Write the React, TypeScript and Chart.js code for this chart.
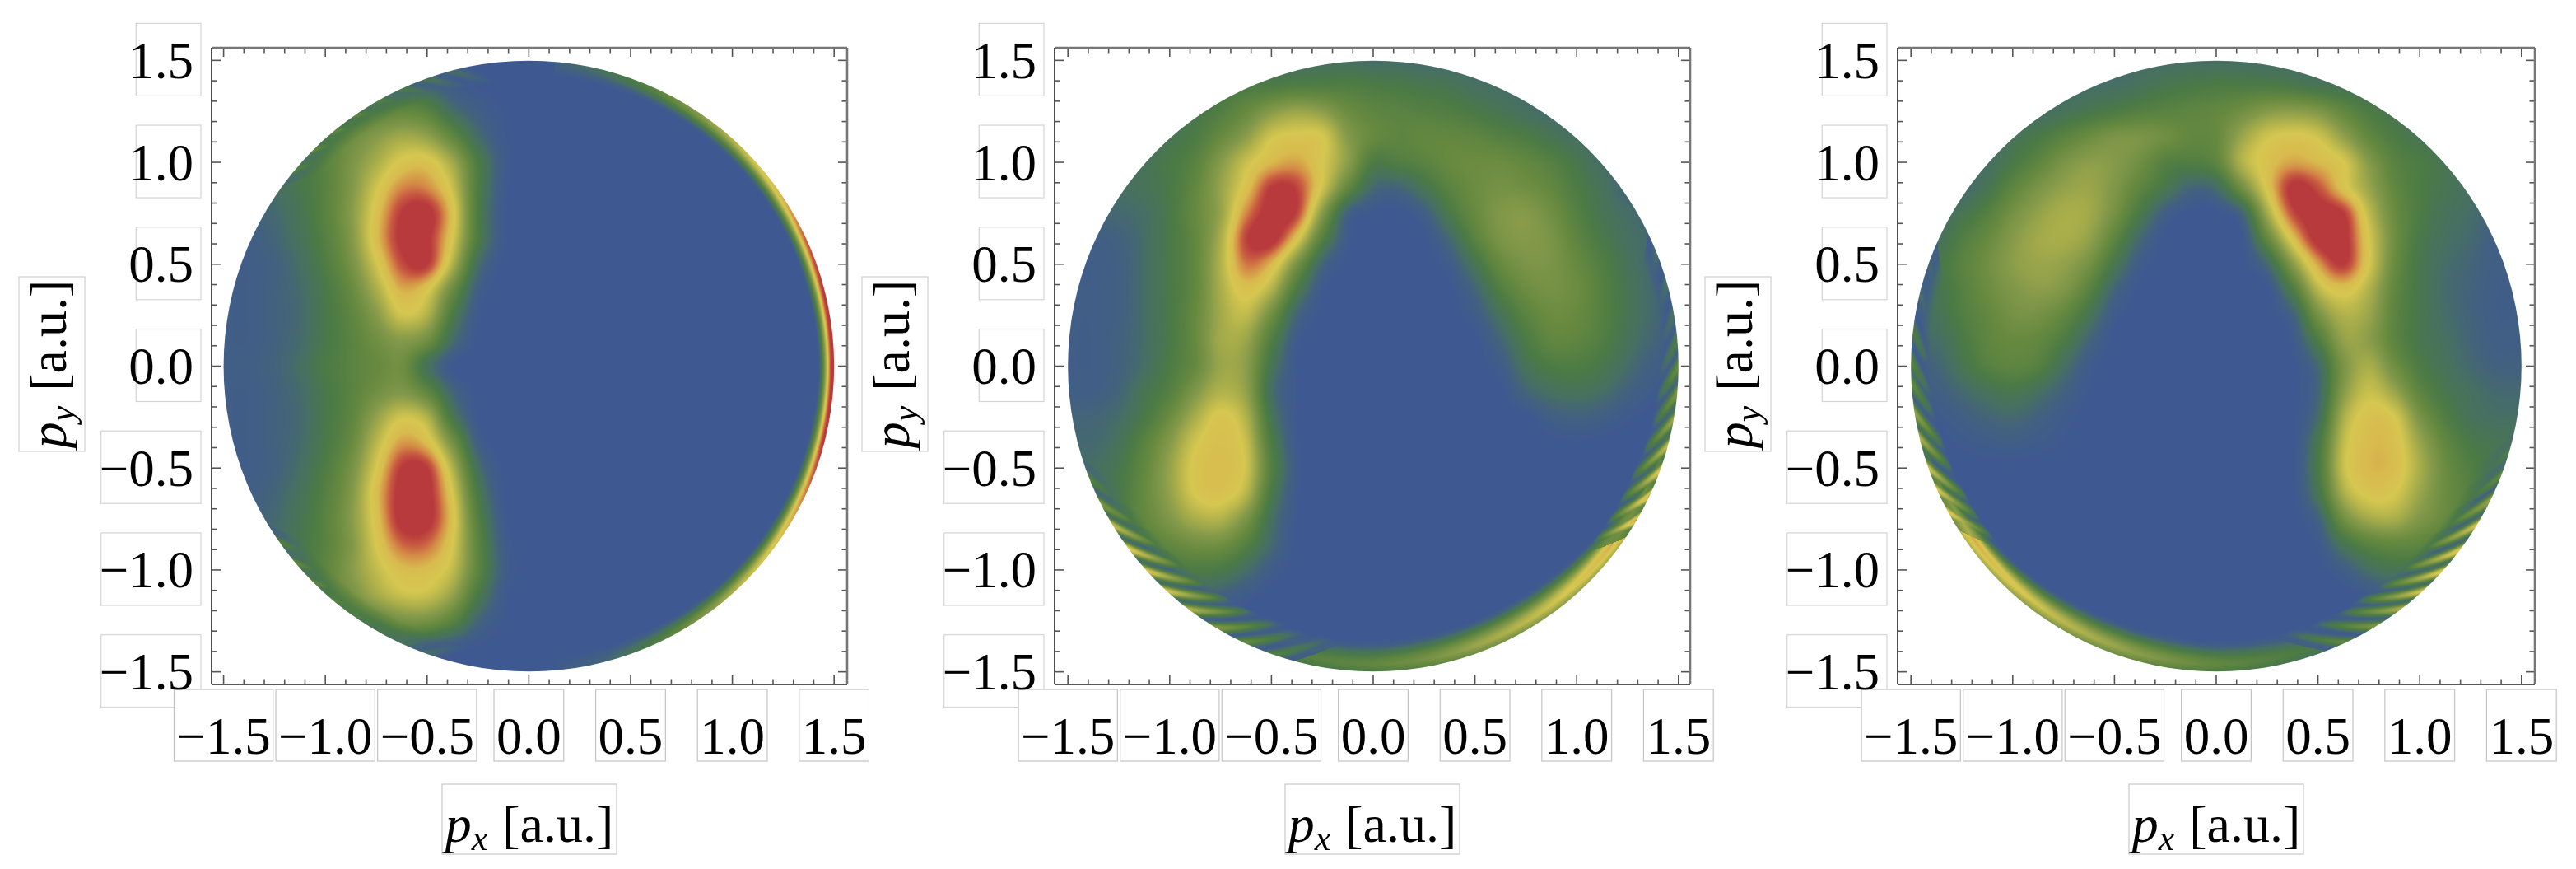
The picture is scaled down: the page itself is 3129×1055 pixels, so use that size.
import React, { useEffect, useRef } from "react";
import { Chart, registerables } from "chart.js";
Chart.register(...registerables);

const xTicks = [-1.5, -1, -0.5, 0, 0.5, 1, 1.5];
const yTicks = [1.5, 1, 0.5, 0, -0.5, -1, -1.5];
const minorTicks = [-1.5,-1.4,-1.3,-1.2,-1.1,-1,-0.9,-0.8,-0.7,-0.6,-0.5,-0.4,-0.3,-0.2,-0.1,0,0.1,0.2,0.3,0.4,0.5,0.6,0.7,0.8,0.9,1,1.1,1.2,1.3,1.4,1.5];
const gridX = [-1.5,-1.375,-1.25,-1.125,-1,-0.875,-0.75,-0.625,-0.5,-0.375,-0.25,-0.125,0,0.125,0.25,0.375,0.5,0.625,0.75,0.875,1,1.125,1.25,1.375,1.5];
const gridY = [1.5,1.375,1.25,1.125,1,0.875,0.75,0.625,0.5,0.375,0.25,0.125,0,-0.125,-0.25,-0.375,-0.5,-0.625,-0.75,-0.875,-1,-1.125,-1.25,-1.375,-1.5];

const colorStops = [[0,"#3e5892"],[8,"#42617f"],[15,"#476f63"],[25,"#4b7a45"],[38,"#66893f"],[50,"#84994a"],[60,"#a8ad4a"],[72,"#d6c750"],[80,"#d8bb4e"],[88,"#d48a46"],[94,"#c75a41"],[100,"#b83a3c"]];

const cellsA = [
[5,5,5,5,5,6,8,10,5,2,0,0,0,0,0,0,0,0,0,0,0,0,0,0,0],
[6,6,6,8,10,14,16,16,12,4,1,0,0,0,0,0,0,0,0,0,0,0,0,0,0],
[20,20,20,22,26,28,32,36,32,15,6,1,0,0,0,0,0,0,0,0,0,0,0,0,0],
[20,20,24,28,32,40,50,58,54,36,14,2,0,0,0,0,0,0,0,0,0,0,0,0,0],
[15,18,20,25,32,46,60,74,76,58,26,4,0,0,0,0,0,0,0,0,0,0,0,0,0],
[10,12,15,22,32,48,70,88,88,68,27,3,0,0,0,0,0,0,0,0,0,0,0,0,0],
[6,8,12,20,32,50,76,100,104,76,26,2,0,0,0,0,0,0,0,0,0,0,0,0,0],
[5,6,10,18,30,48,78,102,102,72,26,2,0,0,0,0,0,0,0,0,0,0,0,0,0],
[5,5,8,15,27,44,70,96,100,62,15,0,0,0,0,0,0,0,0,0,0,0,0,0,0],
[5,5,8,13,24,38,60,82,74,40,6,0,0,0,0,0,0,0,0,0,0,0,0,0,0],
[5,5,8,12,23,34,50,70,62,25,2,0,0,0,0,0,0,0,0,0,0,0,0,0,0],
[5,5,8,13,23,32,42,50,42,14,0,0,0,0,0,0,0,0,0,0,0,0,0,0,0],
[5,6,9,15,25,32,38,42,18,1,0,0,0,0,0,0,0,0,0,0,0,0,0,0,0],
[5,5,8,13,23,32,42,48,35,10,0,0,0,0,0,0,0,0,0,0,0,0,0,0,0],
[5,5,8,12,23,34,54,70,62,22,1,0,0,0,0,0,0,0,0,0,0,0,0,0,0],
[5,5,8,13,24,38,64,85,78,44,6,0,0,0,0,0,0,0,0,0,0,0,0,0,0],
[5,5,8,15,27,44,72,100,100,62,16,0,0,0,0,0,0,0,0,0,0,0,0,0,0],
[5,6,10,18,30,48,78,104,104,72,24,1,0,0,0,0,0,0,0,0,0,0,0,0,0],
[6,8,12,20,32,50,76,104,104,76,30,3,0,0,0,0,0,0,0,0,0,0,0,0,0],
[10,12,15,22,32,48,72,92,92,72,34,5,0,0,0,0,0,0,0,0,0,0,0,0,0],
[15,18,20,26,34,50,66,78,78,66,34,6,0,0,0,0,0,0,0,0,0,0,0,0,0],
[20,20,24,28,34,44,58,68,68,54,24,3,0,0,0,0,0,0,0,0,0,0,0,0,0],
[20,20,20,24,28,32,36,44,44,32,10,1,0,0,0,0,0,0,0,0,0,0,0,0,0],
[5,5,5,8,10,15,20,18,10,4,1,0,0,0,0,0,0,0,0,0,0,0,0,0,0],
[5,5,5,5,5,5,8,8,5,2,0,0,0,0,0,0,0,0,0,0,0,0,0,0,0],
];

const cellsB = [
[10,10,10,10,10,12,14,15,16,16,16,16,14,14,12,12,10,8,8,8,8,8,8,8,8],
[15,15,15,15,15,18,22,25,26,28,28,28,26,24,22,20,16,14,12,10,8,8,8,8,8],
[18,18,18,18,18,22,28,38,50,56,52,40,34,32,30,28,24,20,16,12,10,8,8,8,8],
[18,18,18,18,20,26,38,52,70,74,72,50,38,34,36,36,34,30,26,20,15,10,8,8,8],
[16,16,16,18,24,32,50,68,80,84,72,52,26,28,32,38,40,40,36,30,22,14,10,8,8],
[14,14,15,18,24,36,55,76,100,98,70,36,12,10,20,32,40,44,42,36,26,18,10,8,8],
[10,10,12,15,24,38,55,88,104,98,50,8,1,0,6,24,38,48,50,42,30,20,14,10,10],
[6,6,8,14,24,36,60,98,104,75,30,3,0,0,0,12,32,46,50,46,34,24,16,12,10],
[5,5,7,14,24,36,62,90,80,45,10,0,0,0,0,4,20,38,46,46,38,28,18,12,10],
[5,5,7,14,24,36,60,76,62,25,2,0,0,0,0,0,10,28,40,44,40,30,20,12,10],
[5,5,7,14,24,38,58,66,42,10,0,0,0,0,0,0,4,18,32,40,38,30,20,12,8],
[5,5,8,14,24,38,58,56,28,3,0,0,0,0,0,0,0,10,25,35,34,28,18,10,6],
[5,5,8,15,26,38,56,52,20,1,0,0,0,0,0,0,0,4,18,26,27,22,14,6,4],
[6,6,10,20,30,48,62,54,15,1,0,0,0,0,0,0,0,0,10,16,18,15,8,3,2],
[10,10,14,24,40,60,74,62,20,1,0,0,0,0,0,0,0,0,0,6,8,6,2,0,0],
[12,12,18,32,50,70,77,68,26,2,0,0,0,0,0,0,0,0,0,0,1,0,0,0,0],
[15,15,22,36,55,74,78,70,30,3,0,0,0,0,0,0,0,0,0,0,0,0,0,0,0],
[18,18,24,38,54,72,76,64,24,2,0,0,0,0,0,0,0,0,0,0,0,0,0,0,0],
[20,20,25,36,48,60,62,46,16,1,0,0,0,0,0,0,0,0,0,0,0,0,0,0,0],
[20,20,25,30,36,42,42,30,12,0,0,0,0,0,0,0,0,0,0,0,0,0,0,0,0],
[15,15,18,22,24,26,24,15,4,0,0,0,0,0,0,0,0,0,0,0,0,0,0,0,0],
[8,8,8,8,10,12,8,3,0,0,0,0,0,0,0,0,0,0,0,0,0,0,0,0,0],
[0,0,0,0,0,0,0,0,0,0,0,0,0,0,0,0,0,0,0,0,0,0,0,0,0],
[0,0,0,0,0,0,0,0,0,0,0,0,0,0,0,0,0,0,0,0,0,0,0,0,0],
[0,0,0,0,0,0,0,0,0,0,0,0,0,0,0,0,0,0,0,0,0,0,0,0,0],
];

const cellsC = [
[8,8,8,8,8,8,8,10,12,14,14,15,15,15,14,14,12,12,10,10,10,10,10,10,10],
[8,8,8,8,8,10,12,14,15,18,22,24,26,26,26,24,20,18,15,15,15,15,15,15,15],
[8,8,8,10,12,14,18,22,26,30,32,34,36,42,50,52,48,36,26,20,18,18,18,18,18],
[8,8,10,12,18,24,32,40,46,46,42,36,38,56,70,74,70,54,36,26,20,18,18,18,18],
[8,10,12,15,24,34,46,52,50,42,30,28,34,62,76,84,80,72,50,32,26,20,16,16,16],
[10,10,12,20,34,46,54,56,48,34,22,10,14,42,74,102,96,76,56,36,26,20,16,14,14],
[14,14,20,30,44,54,60,58,44,24,6,0,0,10,58,96,104,100,66,40,26,18,14,8,8],
[16,16,28,38,50,58,60,54,34,12,0,0,0,0,36,76,104,104,72,42,24,16,12,6,6],
[22,22,32,42,52,56,54,44,22,4,0,0,0,0,12,50,84,100,72,40,22,14,10,6,6],
[20,20,30,40,48,52,48,32,10,0,0,0,0,0,0,26,64,76,62,36,22,13,9,5,5],
[18,18,28,36,44,44,36,20,3,0,0,0,0,0,0,8,44,62,56,34,22,14,9,5,5],
[14,14,24,34,38,36,26,10,0,0,0,0,0,0,0,2,26,54,52,34,22,16,10,6,6],
[10,10,20,30,34,30,16,3,0,0,0,0,0,0,0,0,12,46,60,42,26,18,12,8,8],
[6,6,12,18,22,16,8,1,0,0,0,0,0,0,0,0,10,50,68,56,34,22,16,12,12],
[2,2,6,10,12,8,3,0,0,0,0,0,0,0,0,0,14,60,76,72,46,28,18,15,15],
[0,0,2,4,5,3,1,0,0,0,0,0,0,0,0,0,22,66,79,77,56,36,24,20,20],
[0,0,0,0,0,0,0,0,0,0,0,0,0,0,0,0,24,68,80,78,60,40,28,22,22],
[0,0,0,0,0,0,0,0,0,0,0,0,0,0,0,0,20,60,74,72,56,40,30,24,24],
[0,0,0,0,0,0,0,0,0,0,0,0,0,0,0,0,8,42,58,60,48,38,28,24,24],
[0,0,0,0,0,0,0,0,0,0,0,0,0,0,0,0,2,20,32,36,34,28,24,20,20],
[0,0,0,0,0,0,0,0,0,0,0,0,0,0,0,0,0,5,15,20,20,18,16,14,14],
[0,0,0,0,0,0,0,0,0,0,0,0,0,0,0,0,0,0,2,6,6,6,6,6,6],
[0,0,0,0,0,0,0,0,0,0,0,0,0,0,0,0,0,0,0,0,0,0,0,0,0],
[0,0,0,0,0,0,0,0,0,0,0,0,0,0,0,0,0,0,0,0,0,0,0,0,0],
[0,0,0,0,0,0,0,0,0,0,0,0,0,0,0,0,0,0,0,0,0,0,0,0,0],
];

const rimAnglesA = [-85,-75,-65,-55,-45,-35,-25,-15,0,15,25,35,45,55,65,75,85];
const rimPeaksA = [3,10,28,48,66,78,90,102,108,102,94,80,68,52,34,18,8];
const rimWidthsA = [0.09,0.09,0.09,0.09,0.09,0.09,0.09,0.09,0.085,0.09,0.09,0.09,0.09,0.09,0.09,0.09,0.09];
const rimAnglesB = [-125,-115,-100,-90,-80,-70,-60,-50,-40,-35,-30,-25,-15,-10];
const rimPeaksB = [0,26,32,36,44,56,64,72,80,84,88,84,60,0];
const rimWidthsB = [0.1,0.15,0.16,0.16,0.17,0.17,0.17,0.16,0.14,0.12,0.1,0.06,0.03,0.03];
const rimAnglesC = [190,195,205,212,220,230,240,250,260,270,280,290,300];
const rimPeaksC = [0,70,82,86,80,72,64,56,46,36,30,24,0];
const rimWidthsC = [0.03,0.03,0.05,0.1,0.12,0.14,0.16,0.17,0.17,0.16,0.16,0.14,0.1];

const streakAnglesA = [105,110,115,120,125,130,135,140,215,220,225,230,235,240,245,250];
const streakValuesA = [15,20,25,30,34,36,36,32,30,36,36,34,30,25,20,15];
const streakLengthsA = [0.1,0.1,0.1,0.1,0.1,0.1,0.1,0.1,0.1,0.1,0.1,0.1,0.1,0.1,0.1,0.1];
const streakTiltsA = [-65,-65,-65,-65,-65,-65,-65,-65,65,65,65,65,65,65,65,65];
const streakGapsA = [0.3,0.3,0.3,0.3,0.3,0.3,0.3,0.3,0.3,0.3,0.3,0.3,0.3,0.3,0.3,0.3];
const streakAnglesB = [201.5,206.7,211.3,216.6,222,227.3,232.7,238.8,244.6,250.8,22,16,10,5,0,-5,-10,-15,-20,-25,-30];
const streakValuesB = [30,48,68,76,74,72,64,50,38,30,14,16,18,26,40,48,58,68,76,84,86];
const streakLengthsB = [0.13,0.14,0.15,0.16,0.16,0.16,0.16,0.16,0.15,0.15,0.08,0.08,0.09,0.1,0.1,0.1,0.11,0.12,0.12,0.12,0.12];
const streakTiltsB = [65,65,65,65,65,65,65,65,65,65,-65,-65,-65,-65,-65,-65,-65,-65,-65,-65,-65];
const streakGapsB = [0.2,0.4,0.6,0.8,0.9,0.95,0.95,0.95,0.9,0.8,0.7,0.7,0.7,0.7,0.5,0.5,0.5,0.5,0.5,0.5,0.5];
const streakAnglesC = [160,166,173.2,178.9,183,188.7,193.4,199.4,203.7,208.4,-16.2,-20.8,-26,-31.3,-37,-42.2,-47.4,-52.5,-58.2,-64.6];
const streakValuesC = [12,14,26,32,38,55,62,70,74,78,26,36,56,72,78,76,72,62,48,36];
const streakLengthsC = [0.09,0.09,0.1,0.1,0.1,0.11,0.11,0.12,0.12,0.12,0.14,0.14,0.15,0.16,0.16,0.16,0.16,0.15,0.15,0.15];
const streakTiltsC = [68,68,68,68,68,68,68,68,68,68,-68,-68,-68,-68,-68,-68,-68,-68,-68,-68];
const streakGapsC = [0.7,0.7,0.85,0.9,0.9,0.8,0.7,0.5,0.4,0.3,0.2,0.4,0.7,0.85,0.95,0.95,0.95,0.9,0.85,0.7];

const SERIF = '"Liberation Serif", serif';
const PAGE_H = 1055;
const FRAME_TOP = 58;
const FRAME_BOTTOM = 831;

const panels = [
  { left: 0, width: 1055, frameL: 257, frameR: 1029, xMin: -1.559, xMax: 1.564, cells: cellsA,
    rim: [rimAnglesA, rimPeaksA, rimWidthsA], rimDepth: 0,
    streaks: [streakAnglesA, streakValuesA, streakLengthsA, streakTiltsA, streakGapsA] },
  { left: 1040, width: 1045, frameL: 1281, frameR: 2053, xMin: -1.5655, xMax: 1.5574, cells: cellsB,
    rim: [rimAnglesB, rimPeaksB, rimWidthsB], rimDepth: 0.035,
    streaks: [streakAnglesB, streakValuesB, streakLengthsB, streakTiltsB, streakGapsB] },
  { left: 2065, width: 1064, frameL: 2305, frameR: 3079, xMin: -1.5655, xMax: 1.5655, cells: cellsC,
    rim: [rimAnglesC, rimPeaksC, rimWidthsC], rimDepth: 0.035,
    streaks: [streakAnglesC, streakValuesC, streakLengthsC, streakTiltsC, streakGapsC] },
];

function buildLut() {
  const hex = (s: string) => [1, 3, 5].map((i) => parseInt(s.slice(i, i + 2), 16));
  const lut: number[][] = [];
  for (let i = 0; i <= 1200; i++) {
    const v = i / 10;
    let k = 0;
    while (k < colorStops.length - 2 && v > (colorStops[k + 1][0] as number)) k++;
    const a = colorStops[k], b = colorStops[k + 1];
    const t = Math.min(1, Math.max(0, (v - (a[0] as number)) / ((b[0] as number) - (a[0] as number))));
    const ca = hex(a[1] as string), cb = hex(b[1] as string);
    lut.push([0, 1, 2].map((j) => ca[j] + (cb[j] - ca[j]) * t));
  }
  return lut;
}
const LUT = buildLut();

function catmull(p0: number, p1: number, p2: number, p3: number, t: number) {
  return p1 + 0.5 * t * (p2 - p0 + t * (2 * p0 - 5 * p1 + 4 * p2 - p3 + t * (3 * (p1 - p2) + p3 - p0)));
}

function sampleCells(data: any[], x: number, y: number) {
  const n = gridX.length;
  const c = Math.min(n - 1.001, Math.max(0, (x - gridX[0]) / (gridX[1] - gridX[0])));
  const r = Math.min(n - 1.001, Math.max(0, (gridY[0] - y) / (gridY[0] - gridY[1])));
  const ci = Math.floor(c), ri = Math.floor(r);
  const fx = c - ci, fy = r - ri;
  const rows = [0, 0, 0, 0];
  for (let j = -1; j <= 2; j++) {
    const R = Math.min(n - 1, Math.max(0, ri + j));
    const col = (i: number) => data[R * n + Math.min(n - 1, Math.max(0, ci + i))].v;
    rows[j + 1] = catmull(col(-1), col(0), col(1), col(2), fx);
  }
  return catmull(rows[0], rows[1], rows[2], rows[3], fy);
}

function rimAt(rim: number[][], ang: number) {
  const [A, P, W] = rim;
  let a = ang;
  while (a < A[0]) a += 360;
  while (a >= A[0] + 360) a -= 360;
  if (a > A[A.length - 1]) return [0, 0.1];
  let k = 0;
  while (k < A.length - 2 && a > A[k + 1]) k++;
  const t = (a - A[k]) / (A[k + 1] - A[k]);
  return [P[k] + (P[k + 1] - P[k]) * t, W[k] + (W[k + 1] - W[k]) * t];
}

function heatPlugin(panel: any) {
  return {
    id: "heat",
    beforeDatasetsDraw(chart: any) {
      const sx = chart.scales.x, sy = chart.scales.y;
      const ctx = chart.ctx;
      const data = chart.data.datasets[0].data;
      const cx = sx.getPixelForValue(0), cy = sy.getPixelForValue(0);
      const R = sx.getPixelForValue(1.5) - cx;
      const x0 = Math.floor(cx - R) - 1, y0 = Math.floor(cy - R) - 1;
      const size = Math.ceil(2 * R) + 3;
      const off = document.createElement("canvas");
      off.width = size; off.height = size;
      const oc = off.getContext("2d")!;
      const img = oc.createImageData(size, size);
      const [SA, SV, SL, ST, SG] = panel.streaks;
      for (let j = 0; j < size; j++) {
        const y = sy.getValueForPixel(y0 + j + 0.5);
        for (let i = 0; i < size; i++) {
          const x = sx.getValueForPixel(x0 + i + 0.5);
          const r = Math.hypot(x, y);
          if (r > 1.53) continue;
          let v = Math.max(0, sampleCells(data, x, y));
          const d = Math.max(0, 1.5 - r);
          if (d < 0.3) {
            const ang = (Math.atan2(y, x) * 180) / Math.PI;
            const [peak, w] = rimAt(panel.rim, ang);
            if (d < w && peak > 0) {
              const dp = Math.min(panel.rimDepth, w * 0.5);
              let f;
              if (d < dp) f = 0.72 + (0.28 * d) / dp;
              else {
                const t = (d - dp) / (w - dp);
                f = 1 - t * t * (3 - 2 * t);
              }
              v = Math.max(v, peak * f);
            }
            let streak = 0, gap = 0;
            for (let k = 0; k < SA.length; k++) {
              if (d >= SL[k]) continue;
              let da = ang - (SA[k] + ST[k] * d);
              while (da > 180) da -= 360;
              while (da < -180) da += 360;
              if (Math.abs(da) > 4) continue;
              const t = 1 - d / SL[k];
              const s = Math.exp(-(da * da) / (2 * 2));
              streak = Math.max(streak, SV[k] * s * Math.pow(t, 0.6));
              gap = Math.max(gap, SG[k] * Math.min(1, t * 1.6));
            }
            v = Math.max(v * (1 - gap), streak);
          }
          const c = LUT[Math.min(1200, Math.round(Math.max(0, v) * 10))];
          const o = (j * size + i) * 4;
          img.data[o] = c[0]; img.data[o + 1] = c[1]; img.data[o + 2] = c[2]; img.data[o + 3] = 255;
        }
      }
      oc.putImageData(img, 0, 0);
      ctx.save();
      ctx.beginPath();
      ctx.arc(cx, cy, R, 0, Math.PI * 2);
      ctx.clip();
      ctx.drawImage(off, x0, y0);
      ctx.restore();
    },
  };
}

function fmt(v: number) {
  return (v < 0 ? "\u2212" : "") + Math.abs(v).toFixed(1);
}

function drawAxisLabel(ctx: any, sub: string) {
  const big = `64px ${SERIF}`, ital = `italic 64px ${SERIF}`, small = `italic 44px ${SERIF}`;
  ctx.font = ital; const wp = ctx.measureText("p").width;
  ctx.font = small; const ws = ctx.measureText(sub).width;
  ctx.font = big; const wt = ctx.measureText("[a.u.]").width;
  const gap = 18;
  const total = wp + ws + gap + wt;
  ctx.fillStyle = "#000";
  ctx.textAlign = "left";
  ctx.textBaseline = "alphabetic";
  let x = -total / 2;
  ctx.font = ital; ctx.fillText("p", x, 0); x += wp;
  ctx.font = small; ctx.fillText(sub, x, 10); x += ws + gap;
  ctx.font = big; ctx.fillText("[a.u.]", x, 0);
}

function framePlugin(panel: any) {
  return {
    id: "frame",
    beforeDraw(chart: any) {
      const { ctx, chartArea: a } = chart;
      const sx = chart.scales.x, sy = chart.scales.y;
      ctx.save();
      ctx.lineWidth = 1.2;
      ctx.font = `63px ${SERIF}`;
      const label = (b: number[], fill: boolean, strokeCol: string) => {
        if (fill) { ctx.fillStyle = "#fff"; ctx.fillRect(b[0], b[1], b[2], b[3]); }
        ctx.strokeStyle = strokeCol;
        ctx.strokeRect(b[0], b[1], b[2], b[3]);
      };
      const offsetLeft = a.left - 154;
      label([offsetLeft - 80, 336, 80, 212], false, "#d0d0d0");
      label([(a.left + a.right) / 2 - 106, 952, 212, 85], false, "#c8c8c8");
      for (const v of yTicks) {
        const w = ctx.measureText(fmt(v)).width + (v < 0 ? 7 : 0);
        const p = sy.getPixelForValue(v);
        label([a.left - 13 - w, p - 45, w, 88], false, "#d4d4d4");
      }
      for (const v of xTicks) {
        const w = ctx.measureText(fmt(v)).width + 6;
        const p = sx.getPixelForValue(v);
        label([p - w / 2, a.bottom + 6, w, 87], true, "#c4c4c4");
      }
      ctx.restore();
    },
    afterDraw(chart: any) {
      const { ctx, chartArea: a } = chart;
      const sx = chart.scales.x, sy = chart.scales.y;
      ctx.save();
      ctx.strokeStyle = "#555";
      ctx.lineWidth = 1.6;
      const line = (x1: number, y1: number, x2: number, y2: number) => {
        ctx.beginPath(); ctx.moveTo(x1, y1); ctx.lineTo(x2, y2); ctx.stroke();
      };
      for (const v of minorTicks) {
        const major = xTicks.includes(v);
        const L = major ? 11 : 6.5;
        const px = sx.getPixelForValue(v), py = sy.getPixelForValue(v);
        line(px, a.top, px, a.top + L);
        line(px, a.bottom, px, a.bottom - L);
        line(a.left, py, a.left + L, py);
        line(a.right, py, a.right - L, py);
      }
      ctx.strokeStyle = "#222";
      ctx.lineWidth = 1.6;
      line(a.left, a.top, a.left, a.bottom);
      line(a.left, a.bottom, a.right, a.bottom);
      ctx.strokeStyle = "#777";
      ctx.lineWidth = 2.6;
      line(a.left, a.top, a.right, a.top);
      line(a.right, a.top, a.right, a.bottom);
      ctx.save();
      ctx.translate((a.left + a.right) / 2, 1022);
      drawAxisLabel(ctx, "x");
      ctx.restore();
      ctx.save();
      ctx.translate(a.left - 177, 442);
      ctx.rotate(-Math.PI / 2);
      drawAxisLabel(ctx, "y");
      ctx.restore();
      ctx.restore();
    },
  };
}

function Panel({ panel }: { panel: any }) {
  const ref = useRef<HTMLCanvasElement>(null);
  useEffect(() => {
    const points: any[] = [];
    gridY.forEach((y, r) => gridX.forEach((x, c) => points.push({ x, y, v: panel.cells[r][c] })));
    const chart = new Chart(ref.current!, {
      type: "scatter",
      data: { datasets: [{ data: points, pointRadius: 0, showLine: false }] },
      options: {
        animation: false,
        responsive: false,
        devicePixelRatio: 1,
        layout: { padding: { top: FRAME_TOP, right: panel.left + panel.width - panel.frameR, left: 0, bottom: 0 } },
        plugins: { legend: { display: false }, tooltip: { enabled: false }, title: { display: false } },
        scales: {
          x: {
            type: "linear", min: panel.xMin, max: panel.xMax,
            grid: { display: false }, border: { display: false },
            afterBuildTicks: (s: any) => { s.ticks = xTicks.map((value) => ({ value })); },
            afterFit: (s: any) => { s.height = PAGE_H - FRAME_BOTTOM; s.paddingLeft = 0; s.paddingRight = 0; s.paddingTop = 0; s.paddingBottom = 0; },
            ticks: {
              autoSkip: false, maxRotation: 0, minRotation: 0, padding: 22, color: "#000",
              font: { family: SERIF, size: 63 },
              callback: (v: any) => fmt(Number(v)),
            },
          },
          y: {
            type: "linear", min: -1.562, max: 1.562,
            grid: { display: false }, border: { display: false },
            afterBuildTicks: (s: any) => { s.ticks = yTicks.map((value) => ({ value })); },
            afterFit: (s: any) => { s.width = panel.frameL - panel.left; s.paddingLeft = 0; s.paddingRight = 0; s.paddingTop = 0; s.paddingBottom = 0; },
            ticks: {
              autoSkip: false, padding: 14, color: "#000", labelOffset: 5,
              font: { family: SERIF, size: 63 },
              callback: (v: any) => fmt(Number(v)),
            },
          },
        },
      },
      plugins: [framePlugin(panel), heatPlugin(panel)],
    } as any);
    return () => chart.destroy();
  }, [panel]);
  return (
    <canvas
      ref={ref}
      width={panel.width}
      height={PAGE_H}
      style={{ position: "absolute", left: panel.left, top: 0, width: panel.width, height: PAGE_H }}
    />
  );
}

export default function App() {
  return (
    <div style={{ position: "absolute", left: 0, top: 0, width: 3129, height: PAGE_H, background: "#fff", overflow: "hidden" }}>
      {panels.map((p, i) => <Panel key={i} panel={p} />)}
    </div>
  );
}
